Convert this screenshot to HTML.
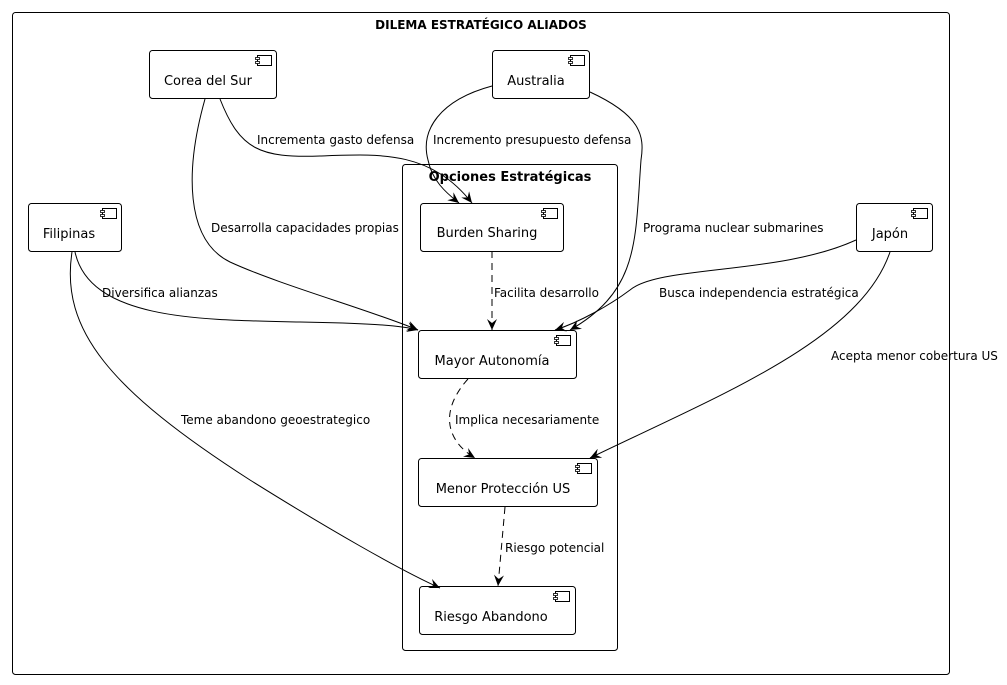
<!DOCTYPE html>
<html><head><meta charset="utf-8"><style>
html,body{margin:0;padding:0;background:#fff;}
svg text{font-family:"DejaVu Sans","Liberation Sans",sans-serif;font-size:12px;fill:#000;}
svg text.n{font-size:13px;}
</style></head><body>
<svg width="1007" height="680" viewBox="0 0 1007 680" xmlns="http://www.w3.org/2000/svg">
<defs>
<marker id="a" viewBox="0 0 12 10" refX="11" refY="5" markerWidth="12" markerHeight="10" orient="auto" markerUnits="userSpaceOnUse">
<path d="M0,0 L11,5 L0,10 L4,5 Z" fill="#000"/>
</marker>
<g id="ic"><rect x="0" y="0" width="14" height="10" fill="#fff" stroke="#000" stroke-width="1"/><rect x="-2" y="2" width="4" height="2" fill="#fff" stroke="#000" stroke-width="0.8"/><rect x="-2" y="6" width="4" height="2" fill="#fff" stroke="#000" stroke-width="0.8"/></g>
</defs>
<rect x="12.5" y="12.5" width="937" height="662" rx="3" fill="none" stroke="#000"/>
<text x="481" y="29" text-anchor="middle" font-weight="bold">DILEMA ESTRATÉGICO ALIADOS</text>
<rect x="402.5" y="164.5" width="215" height="486" rx="3" fill="none" stroke="#000"/>
<text x="510" y="181" text-anchor="middle" font-weight="bold" class="n">Opciones Estratégicas</text>

<g fill="#fff" stroke="#000">
<rect x="149.5" y="50.5" width="127" height="48" rx="3"/>
<rect x="492.5" y="50.5" width="97" height="48" rx="3"/>
<rect x="28.5" y="203.5" width="93" height="48" rx="3"/>
<rect x="856.5" y="203.5" width="76" height="48" rx="3"/>
<rect x="420.5" y="203.5" width="143" height="48" rx="3"/>
<rect x="418.5" y="330.5" width="158" height="48" rx="3"/>
<rect x="418.5" y="458.5" width="179" height="48" rx="3"/>
<rect x="419.5" y="586.5" width="156" height="48" rx="3"/>
</g>
<use href="#ic" x="257.5" y="55.5"/>
<use href="#ic" x="570.5" y="55.5"/>
<use href="#ic" x="102.5" y="208.5"/>
<use href="#ic" x="913.5" y="208.5"/>
<use href="#ic" x="543.5" y="208.5"/>
<use href="#ic" x="556.5" y="335.5"/>
<use href="#ic" x="577.5" y="463.5"/>
<use href="#ic" x="555.5" y="591.5"/>
<text class="n" x="208" y="85" text-anchor="middle">Corea del Sur</text>
<text class="n" x="536" y="85" text-anchor="middle">Australia</text>
<text class="n" x="69" y="238" text-anchor="middle">Filipinas</text>
<text class="n" x="890" y="238" text-anchor="middle">Japón</text>
<text class="n" x="487" y="237" text-anchor="middle">Burden Sharing</text>
<text class="n" x="492" y="365" text-anchor="middle">Mayor Autonomía</text>
<text class="n" x="503" y="493" text-anchor="middle">Menor Protección US</text>
<text class="n" x="491" y="621" text-anchor="middle">Riesgo Abandono</text>

<g fill="none" stroke="#000" stroke-width="1">
<path d="M220,99 C240,150 260,158 320,156 C380,154 430,150 472,203" marker-end="url(#a)"/>
<path d="M492,86 C440,100 420,130 428,160 C432,180 445,192 459,203" marker-end="url(#a)"/>
<path d="M205,99 C185,170 185,240 230,262 C280,285 370,310 418,330" marker-end="url(#a)"/>
<path d="M590,92 C640,115 645,135 641,160 C635,240 640,290 570,330" marker-end="url(#a)"/>
<path d="M75,252 C90,320 200,320 300,322 C360,323 400,325 418,330" marker-end="url(#a)"/>
<path d="M856,240 C780,275 660,265 630,290 C610,305 580,322 555,330" marker-end="url(#a)"/>
<path d="M72,252 C60,330 110,390 250,480 C330,530 400,570 440,588" marker-end="url(#a)"/>
<path d="M890,252 C860,340 720,395 590,458" marker-end="url(#a)"/>
<g stroke-dasharray="7,5">
<path d="M492,251 L492,330" marker-end="url(#a)"/>
<path d="M468,379 C440,410 445,440 475,458" marker-end="url(#a)"/>
<path d="M505,507 L498,586" marker-end="url(#a)"/>
</g>
</g>
<text x="257" y="144">Incrementa gasto defensa</text>
<text x="433" y="144">Incremento presupuesto defensa</text>
<text x="211" y="232">Desarrolla capacidades propias</text>
<text x="643" y="232">Programa nuclear submarines</text>
<text x="102" y="297">Diversifica alianzas</text>
<text x="659" y="297">Busca independencia estratégica</text>
<text x="494" y="297">Facilita desarrollo</text>
<text x="831" y="360">Acepta menor cobertura US</text>
<text x="181" y="424">Teme abandono geoestrategico</text>
<text x="455" y="424">Implica necesariamente</text>
<text x="505" y="552">Riesgo potencial</text>
</svg>
</body></html>
